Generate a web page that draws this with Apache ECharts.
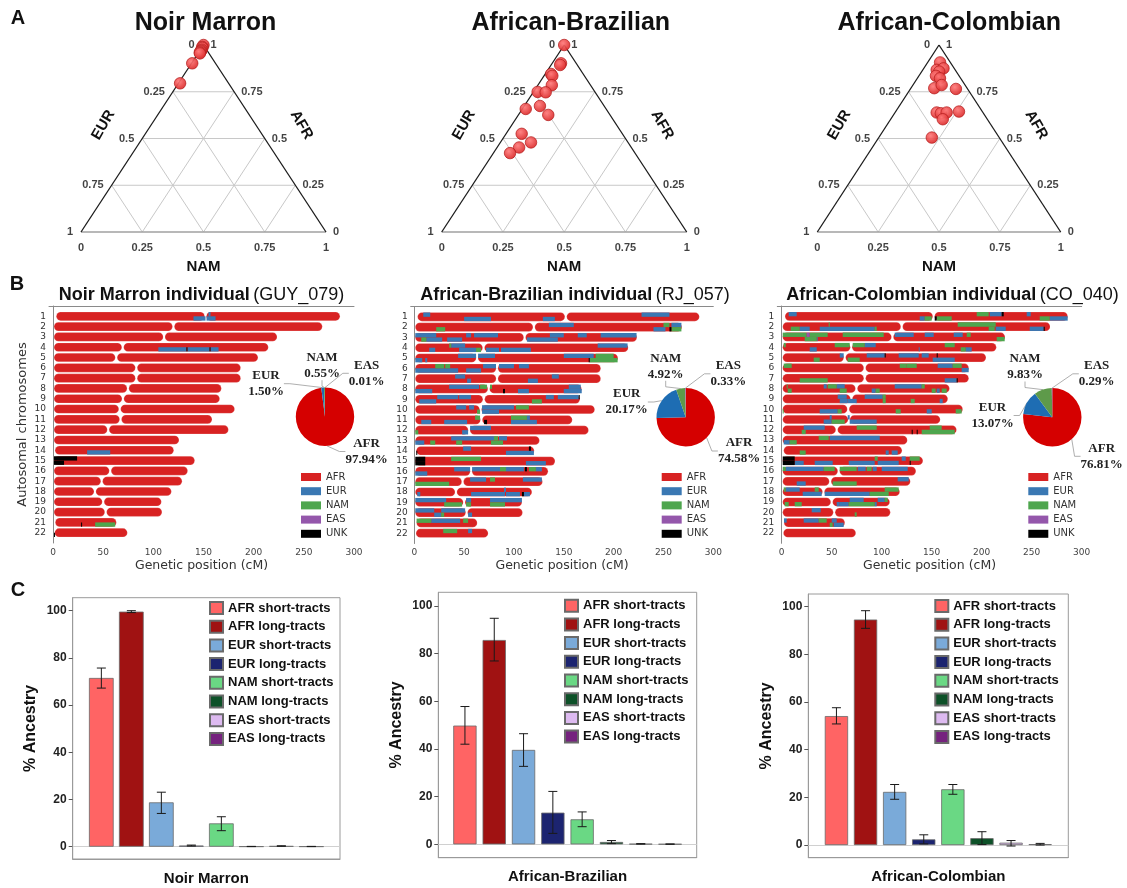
<!DOCTYPE html>
<html><head><meta charset="utf-8">
<script src="https://cdn.jsdelivr.net/npm/echarts@6/dist/echarts.min.js"></script>
<style>html,body{margin:0;padding:0;background:#fff}#c{width:1127px;height:888px}</style>
</head><body><div id="c"></div>
<script>
// ---------------- DATA ----------------
// Panel A: individual ancestry proportions [AFR, EUR, NAM]
const ternTitles = ['Noir Marron', 'African-Brazilian', 'African-Colombian'];
const ternTicks = [0, 0.25, 0.5, 0.75, 1];
const ternNoirMarron = [[1,0,0],[0.99,0.01,0],[0.985,0.012,0.003],[0.975,0.02,0.005],[0.97,0.025,0.005],[0.965,0.03,0.005],[0.96,0.035,0.005],[0.955,0.037,0.008],[0.902,0.095,0.003],[0.795,0.198,0.007]];
const ternAfrBrazilian = [[1,0,0],[0.902,0.062,0.036],[0.893,0.07,0.037],[0.845,0.131,0.024],[0.835,0.131,0.034],[0.785,0.158,0.057],[0.749,0.234,0.017],[0.747,0.202,0.051],[0.658,0.328,0.014],[0.674,0.262,0.064],[0.626,0.252,0.122],[0.525,0.411,0.064],[0.479,0.396,0.125],[0.452,0.458,0.09],[0.422,0.51,0.068]];
const ternAfrColombian = [[0.907,0.042,0.051],[0.867,0.076,0.057],[0.875,0.044,0.081],[0.858,0.07,0.072],[0.835,0.095,0.07],[0.822,0.085,0.093],[0.769,0.135,0.096],[0.786,0.096,0.118],[0.765,0.048,0.187],[0.639,0.19,0.171],[0.635,0.175,0.19],[0.639,0.149,0.212],[0.603,0.183,0.214],[0.644,0.096,0.26],[0.505,0.277,0.218]];

// Panel B: chromosomes (cM)
const chrLabels = [1,2,3,4,5,6,7,8,9,10,11,12,13,14,15,16,17,18,19,20,21,22];
const chrStart = [3.3,1,1,1,1,1,1,1,1,1,1,1,1,2,1,1,1,1,1,1,2.3,1.7];
const chrCentro = [152,120,110.7,69.5,63,83,83,74.7,69.7,66.5,67.3,55,null,null,null,57,48.5,41.8,50,52.5,null,null];
const chrEnd = [286,268.4,223.3,214.6,204.3,187,187,167.8,166.1,181,158.5,174.8,125.6,120.3,141.2,134.2,128.6,118,108,108.6,63.1,74.1];
const ancestries = ['AFR','EUR','NAM','EAS','UNK'];
const indivTitles = [['Noir Marron individual','(GUY_079)'],['African-Brazilian individual','(RJ_057)'],['African-Colombian individual','(CO_040)']];
// [chromosome, haplotype (0 top / 1 bottom), start cM, end cM, ancestry]
const segNoirMarron = [
[1,1,140,152,'EUR'],[1,1,153,162,'EUR'],[1,0,155,157,'EUR'],
[4,1,105,133,'EUR'],[4,1,133,134,'UNK'],[4,1,134,156,'EUR'],[4,1,156,157,'UNK'],[4,1,157,165,'EUR'],
[14,1,34,57,'EUR'],[15,0,1,24,'UNK'],[15,1,1,11,'UNK'],[21,1,28,29,'UNK'],[21,1,42,62,'NAM'],[22,1,1,2,'UNK']];
const segAfrBrazilian = [
[1,0,9,16,'EUR'],[1,1,50,77,'EUR'],[1,1,129,141,'EUR'],[1,0,228,256,'EUR'],
[2,0,135,160,'EUR'],[2,1,22,31,'NAM'],[2,1,240,252,'EUR'],[2,0,250,256,'NAM'],[2,1,256,258,'UNK'],[2,1,258,268,'NAM'],[2,0,258,268,'EUR'],
[3,0,1,22,'EUR'],[3,1,7,12,'NAM'],[3,1,12,28,'EUR'],[3,0,52,57,'EUR'],[3,0,60,84,'EUR'],[3,1,33,48,'EUR'],[3,1,113,144,'EUR'],[3,0,136,150,'EUR'],[3,0,164,173,'EUR'],[3,0,187,223,'EUR'],
[4,0,35,37,'NAM'],[4,0,37,51,'EUR'],[4,1,15,21,'EUR'],[4,1,45,62,'EUR'],[4,1,62,67,'NAM'],[4,1,72,85,'EUR'],[4,1,87,117,'EUR'],[4,0,184,214,'EUR'],
[5,1,1,8,'EUR'],[5,1,11,13,'EUR'],[5,0,44,62,'EUR'],[5,0,64,81,'EUR'],[5,0,150,180,'EUR'],[5,1,176,204,'NAM'],[5,0,182,200,'NAM'],[5,1,175,176,'UNK'],
[6,0,21,30,'NAM'],[6,0,31,36,'NAM'],[6,1,1,44,'EUR'],[6,1,52,67,'EUR'],[6,0,69,82,'EUR'],[6,0,85,100,'EUR'],[6,0,105,115,'EUR'],
[7,0,41,51,'EUR'],[7,1,53,57,'EUR'],[7,1,114,124,'EUR'],[7,0,138,145,'EUR'],
[8,0,35,65,'EUR'],[8,0,66,73,'NAM'],[8,0,76,78,'NAM'],[8,1,1,18,'EUR'],[8,1,89,91,'UNK'],[8,1,104,115,'EUR'],[8,1,150,168,'EUR'],[8,0,155,167,'EUR'],
[9,0,23,44,'EUR'],[9,0,45,57,'EUR'],[9,1,5,22,'EUR'],[9,1,118,128,'NAM'],[9,0,132,140,'EUR'],[9,0,144,165,'EUR'],[9,0,165,166,'UNK'],
[10,0,42,52,'EUR'],[10,0,55,60,'EUR'],[10,1,63,66,'NAM'],[10,0,68,100,'EUR'],[10,1,68,85,'EUR'],[10,0,102,115,'NAM'],
[11,1,7,17,'EUR'],[11,1,30,53,'EUR'],[11,0,61,66,'NAM'],[11,1,70,73,'UNK'],[11,0,97,113,'NAM'],[11,1,97,123,'EUR'],[11,0,113,116,'EUR'],
[12,1,1,4,'NAM'],[12,1,48,54,'EUR'],[12,0,56,77,'EUR'],
[13,0,37,80,'EUR'],[13,0,80,84,'NAM'],[13,0,85,93,'EUR'],[13,1,1,10,'EUR'],[13,1,16,21,'NAM'],[13,1,42,48,'NAM'],[13,1,77,89,'NAM'],
[14,0,49,57,'EUR'],[14,1,92,120,'EUR'],[14,1,2,3,'UNK'],[14,0,115,117,'UNK'],
[15,0,1,11,'UNK'],[15,1,1,11,'UNK'],[15,0,37,67,'NAM'],[15,1,112,132,'EUR'],
[16,1,1,13,'EUR'],[16,0,40,56,'EUR'],[16,0,58,86,'EUR'],[16,0,86,92,'NAM'],[16,0,92,110,'EUR'],[16,0,111,113,'UNK'],[16,0,115,122,'NAM'],[16,0,122,128,'EUR'],
[17,1,1,35,'NAM'],[17,0,56,72,'EUR'],[17,0,76,81,'NAM'],[17,0,109,128,'EUR'],
[18,1,3,6,'EUR'],[18,1,57,91,'EUR'],[18,0,90,92,'EUR'],[18,1,92,106,'EUR'],[18,1,108,110,'UNK'],[18,1,110,116,'EUR'],
[19,0,1,32,'EUR'],[19,1,30,48,'NAM'],[19,0,52,57,'EUR'],[19,1,52,57,'NAM'],[19,0,76,108,'EUR'],[19,1,76,91,'NAM'],
[20,0,1,20,'EUR'],[20,1,20,27,'EUR'],[20,0,27,51,'EUR'],[20,1,27,30,'NAM'],[20,1,54,58,'EUR'],
[21,0,2.3,17,'NAM'],[21,0,17,46,'EUR'],[21,0,49,54,'NAM'],
[22,0,29,43,'NAM'],[22,0,54,58,'EUR']];
const segAfrColombian = [
[1,0,7,15,'EUR'],[1,0,195,207,'NAM'],[1,0,208,220,'EUR'],[1,0,220,222,'UNK'],[1,0,245,249,'EUR'],[1,1,138,143,'EUR'],[1,1,143,150,'NAM'],[1,1,153,155,'UNK'],[1,1,155,170,'NAM'],[1,1,258,268,'NAM'],[1,1,268,286,'EUR'],
[2,0,47,48,'NAM'],[2,1,9,18,'NAM'],[2,1,18,28,'EUR'],[2,1,38,93,'EUR'],[2,1,93,95,'NAM'],[2,0,176,214,'NAM'],[2,1,207,213,'NAM'],[2,1,214,224,'EUR'],[2,1,248,262,'EUR'],[2,1,262,263,'UNK'],
[3,0,1,25,'NAM'],[3,0,25,28,'EAS'],[3,0,28,46,'NAM'],[3,0,61,102,'NAM'],[3,1,23,35,'NAM'],[3,1,35,36,'EUR'],[3,0,113,132,'EUR'],[3,0,143,152,'EUR'],[3,0,172,181,'EUR'],[3,0,185,189,'NAM'],[3,1,215,223,'NAM'],
[4,0,2,4,'NAM'],[4,0,53,68,'NAM'],[4,0,71,83,'NAM'],[4,0,83,94,'EUR'],[4,1,28,35,'EUR'],[4,0,163,173,'NAM'],[4,1,179,184,'NAM'],[4,1,184,190,'EUR'],[4,1,137,138,'EUR'],
[5,0,58,62,'EUR'],[5,1,32,38,'NAM'],[5,1,66,78,'NAM'],[5,0,85,103,'EUR'],[5,0,103,104,'UNK'],[5,0,117,137,'EUR'],[5,0,140,147,'EUR'],[5,0,155,156,'UNK'],[5,1,151,173,'EUR'],
[6,0,2,10,'NAM'],[6,0,118,125,'NAM'],[6,0,125,135,'NAM'],[6,0,156,171,'EUR'],[6,0,171,180,'NAM'],[6,1,180,187,'EUR'],
[7,1,18,46,'NAM'],[7,1,163,175,'EUR'],[7,1,175,176,'UNK'],
[8,0,5,6,'NAM'],[8,1,6,10,'NAM'],[8,0,42,45,'EUR'],[8,0,46,55,'NAM'],[8,0,55,63,'EUR'],[8,1,58,65,'NAM'],[8,1,90,94,'EUR'],[8,1,94,98,'NAM'],[8,0,113,140,'EUR'],[8,0,140,143,'NAM'],[8,1,150,154,'NAM'],[8,1,155,158,'EUR'],[8,1,160,165,'NAM'],
[9,0,56,65,'EUR'],[9,1,58,66,'EUR'],[9,1,66,75,'EUR'],[9,0,83,101,'EUR'],[9,0,101,104,'NAM'],[9,1,101,104,'NAM'],[9,1,129,133,'NAM'],[9,1,158,161,'EUR'],
[10,1,1,2,'NAM'],[10,1,38,56,'EUR'],[10,1,56,60,'NAM'],[10,1,114,119,'NAM'],[10,1,145,150,'EUR'],[10,1,174,180,'NAM'],
[11,0,48,50,'EUR'],[11,1,42,50,'EUR'],[11,1,50,63,'NAM'],[11,1,68,95,'EUR'],[11,0,66,68,'EUR'],
[12,0,22,43,'EUR'],[12,1,20,24,'NAM'],[12,0,75,95,'NAM'],[12,0,148,160,'NAM'],[12,1,140,173,'NAM'],[12,1,130,131,'UNK'],[12,1,135,136,'UNK'],
[13,1,2,8,'EUR'],[13,1,8,15,'NAM'],[13,0,37,47,'NAM'],[13,0,48,98,'EUR'],
[14,1,18,24,'NAM'],[14,1,104,107,'EUR'],[14,1,110,116,'EUR'],
[15,0,1,13,'UNK'],[15,1,1,13,'UNK'],[15,1,13,22,'EUR'],[15,1,33,51,'EUR'],[15,1,67,93,'EUR'],[15,0,93,96,'NAM'],[15,1,96,117,'EUR'],[15,0,120,124,'EUR'],[15,0,128,138,'NAM'],[15,1,128,129,'UNK'],
[16,0,1,4,'NAM'],[16,0,4,42,'EUR'],[16,0,42,53,'NAM'],[16,0,58,75,'NAM'],[16,0,76,84,'EUR'],[16,0,85,90,'NAM'],[16,0,91,95,'EUR'],[16,0,100,126,'EUR'],
[17,1,15,24,'EUR'],[17,0,116,127,'EUR'],[17,1,51,75,'NAM'],
[18,0,2,4,'NAM'],[18,0,4,18,'EUR'],[18,1,21,40,'EUR'],[18,0,33,37,'NAM'],[18,1,43,88,'EUR'],[18,1,88,107,'NAM'],[18,0,103,117,'NAM'],
[19,1,3,7,'NAM'],[19,1,13,20,'NAM'],[19,0,68,82,'EUR'],[19,0,96,103,'EUR'],[19,0,103,106,'NAM'],[19,1,55,58,'EUR'],[19,1,58,67,'EUR'],[19,1,67,93,'NAM'],[19,1,93,95,'EUR'],
[20,0,30,39,'EUR'],[20,1,73,75,'NAM'],
[21,0,2.3,5,'EUR'],[21,0,22,37,'EUR'],[21,0,37,45,'NAM'],[21,0,50,55,'EUR'],[21,1,48,51,'NAM'],[21,1,52,62,'EUR']];
// genome-wide ancestry proportions (%), order AFR, EUR, NAM, EAS
const pieNoirMarron = [97.94, 1.50, 0.55, 0.01];
const pieAfrBrazilian = [74.58, 20.17, 4.92, 0.33];
const pieAfrColombian = [76.81, 13.07, 9.83, 0.29];
const xTicksCM = [0, 50, 100, 150, 200, 250, 300];

// Panel C: % ancestry by tract length
const tractNames = ['AFR short-tracts','AFR long-tracts','EUR short-tracts','EUR long-tracts','NAM short-tracts','NAM long-tracts','EAS short-tracts','EAS long-tracts'];
const popNames = ['Noir Marron', 'African-Brazilian', 'African-Colombian'];
const meanNoirMarron = [71.5, 99.6, 18.8, 0.5, 9.9, 0.1, 0.3, 0.1];
const lowNoirMarron  = [67.2, 99.2, 14.1, 0.3, 6.8, 0.05, 0.2, 0.05];
const highNoirMarron = [75.7, 100, 23.1, 0.7, 12.7, 0.15, 0.4, 0.15];
const meanAfrBrazilian = [49.8, 85.7, 39.6, 13.3, 10.5, 1.0, 0.2, 0.1];
const lowAfrBrazilian  = [42.0, 76.9, 32.7, 4.6, 7.4, 0.3, 0.1, 0.05];
const highAfrBrazilian = [57.8, 94.8, 46.4, 22.2, 13.6, 1.6, 0.3, 0.15];
const meanAfrColombian = [54.1, 94.6, 22.3, 2.4, 23.4, 2.9, 1.0, 0.4];
const lowAfrColombian  = [50.8, 90.9, 19.2, 0.5, 21.3, 0.2, -0.4, 0.0];
const highAfrColombian = [57.6, 98.3, 25.4, 4.3, 25.4, 5.6, 1.9, 0.7];
const yTicksPct = [0, 20, 40, 60, 80, 100];

// ---------------- STYLE / LAYOUT ----------------
const SANS = 'Liberation Sans, Arial, sans-serif';
const MPL = 'DejaVu Sans, sans-serif';
const SERIF = 'Liberation Serif, Times New Roman, serif';
const COL = {AFR:'#d82222', EUR:'#3a78b3', NAM:'#4ea64e', EAS:'#9457ab', UNK:'#000000'};
const PIECOL = ['#d50000', '#1e6db3', '#5e9a4a', '#9457ab'];
const TRACTCOL = ['#ff6464','#a01212','#7aaad9','#1c2470','#6ad884','#0d5128','#ddbaf0','#75227e'];

const ternBox = [{left:81, top:45, width:245, height:187},{left:441.7, top:45, width:245, height:187},{left:817.3, top:45, width:243.4, height:187}];
const chromBox = [{left:49, top:306, width:305, height:237},{left:410.7, top:306.5, width:302.6, height:237},{left:777.3, top:306, width:304.4, height:237.3}];
const chromXMin = [-4, -3.6, -4.4];
const pieCenter = [[325, 416.7],[685.7, 417.3],[1052.3, 417.3]];
const pieLabelPos = [
  [[366.5,451.5],[266,383.7],[322,365.7],[366.7,373.3]],
  [[739,451],[626.7,402],[665.7,366.3],[728.3,373.8]],
  [[1101.7,456.3],[992.5,415.5],[1025,367],[1096.7,373.8]]];
const legBLeft = [296, 656.7, 1023.3];
const barBox = [{left:72.7, top:597.7, width:267.3, height:261.3},{left:438.3, top:592.3, width:258.4, height:265.4},{left:808.3, top:594, width:260, height:263.7}];
const barY = [[-5.2,105.5],[-5.6,105.7],[-5.3,105.3]];
const barW = [24.7, 23.3, 23.3];
const barStep = [30, 29.3, 29.1];
const legCPos = [[209,601],[564,598.7],[934.3,599]];

const ternSets = [ternNoirMarron, ternAfrBrazilian, ternAfrColombian];
const segSets = [segNoirMarron, segAfrBrazilian, segAfrColombian];
const pieSets = [pieNoirMarron, pieAfrBrazilian, pieAfrColombian];
const meanSets = [meanNoirMarron, meanAfrBrazilian, meanAfrColombian];
const lowSets = [lowNoirMarron, lowAfrBrazilian, lowAfrColombian];
const highSets = [highNoirMarron, highAfrBrazilian, highAfrColombian];

// ternary -> cartesian (EUR vertex bottom-left, NAM bottom-right, AFR apex)
function tern(afr, eur, nam) { return [nam + afr / 2, afr]; }

const grid = [], xAxis = [], yAxis = [], series = [], legend = [], graphic = [];
const BAR_H = 0.84;

// ---------- Panel A ----------
for (let p = 0; p < 3; p++) {
  const b = ternBox[p];
  grid.push({left:b.left, top:b.top, width:b.width, height:b.height});
  const gi = grid.length - 1;
  xAxis.push({gridIndex:gi, type:'value', min:0, max:1, show:false});
  yAxis.push({gridIndex:gi, type:'value', min:0, max:1, show:false});
  const lines = [];
  ternTicks.filter(k => k > 0 && k < 1).forEach(k => {
    lines.push([...tern(k, 1-k, 0), ...tern(k, 0, 1-k), 0]);
    lines.push([...tern(0, 1-k, k), ...tern(1-k, 0, k), 0]);
    lines.push([...tern(0, k, 1-k), ...tern(1-k, k, 0), 0]);
  });
  lines.push([...tern(0,0,1), ...tern(0,1,0), 2]);
  lines.push([...tern(0,1,0), ...tern(1,0,0), 1]);
  lines.push([...tern(0,0,1), ...tern(1,0,0), 1]);
  series.push({type:'custom', name:'tern-frame-'+p, xAxisIndex:gi, yAxisIndex:gi, silent:true, z:1,
    encode:{x:[0,2], y:[1,3]}, data: lines,
    renderItem: (params, api) => {
      const a = api.coord([api.value(0), api.value(1)]), c = api.coord([api.value(2), api.value(3)]);
      const k = api.value(4);
      return {type:'line', shape:{x1:a[0], y1:a[1], x2:c[0], y2:c[1]},
        style:{stroke: k === 0 ? '#c8c8c8' : (k === 1 ? '#1a1a1a' : '#a0a0a0'), lineWidth: k === 0 ? 1 : 1.3}};
    }});
  // tick labels
  const tl = [];
  const lab = (pos, text, position, dist) => ({value: pos, label:{show:true, position, distance:dist, formatter: text}});
  ternTicks.forEach(v => {
    tl.push(lab(tern(1-v, v, 0), String(v), 'left', v === 0 ? 9 : 8));
    tl.push(lab(tern(v, 0, 1-v), String(v), 'right', 7));
    tl.push(lab(tern(0, 1-v, v), String(v), 'bottom', 10));
  });
  series.push({type:'scatter', name:'tern-ticks-'+p, xAxisIndex:gi, yAxisIndex:gi, silent:true, symbolSize:0, z:2,
    label:{fontFamily:SANS, fontWeight:'bold', fontSize:11, color:'#111'}, data: tl});
  series.push({type:'scatter', name:ternTitles[p], xAxisIndex:gi, yAxisIndex:gi, z:5, symbolSize:11.5,
    itemStyle:{color:new echarts.graphic.RadialGradient(0.4,0.35,0.65,[{offset:0,color:'#ff7a7a'},{offset:1,color:'#db2a2a'}]),
      borderColor:'#b41c1c', borderWidth:0.8, opacity:0.92},
    data: ternSets[p].map(d => tern(d[0], d[1], d[2]))});
  const cx = b.left + b.width / 2;
  graphic.push({type:'text', style:{text:ternTitles[p], x:[205.5,570.8,949.2][p], y:22.7, align:'center', verticalAlign:'middle',
    font:'bold 25px ' + SANS, fill:'#111'}});
  graphic.push({type:'text', x:b.left + 0.091*b.width, y:125, rotation:Math.PI/3,
    style:{text:'EUR', x:0, y:0, align:'center', verticalAlign:'middle', font:'bold 15px ' + SANS, fill:'#111'}});
  graphic.push({type:'text', x:b.left + 0.9*b.width, y:125, rotation:-Math.PI/3,
    style:{text:'AFR', x:0, y:0, align:'center', verticalAlign:'middle', font:'bold 15px ' + SANS, fill:'#111'}});
  graphic.push({type:'text', style:{text:'NAM', x:cx, y:266.7, align:'center', verticalAlign:'middle', font:'bold 15px ' + SANS, fill:'#111'}});
}

// ---------- Panel B ----------
for (let p = 0; p < 3; p++) {
  const b = chromBox[p];
  grid.push({left:b.left, top:b.top, width:b.width, height:b.height});
  const gi = grid.length - 1;
  xAxis.push({gridIndex:gi, type:'value', min:chromXMin[p], max:300,
    axisLine:{lineStyle:{color:'#8a8a8a'}}, axisTick:{show:false}, splitLine:{show:false},
    axisLabel:{customValues:xTicksCM, fontFamily:MPL, fontSize:9, color:'#444', margin:5},
    name:'Genetic position (cM)', nameLocation:'middle', nameGap:16,
    nameTextStyle:{fontFamily:MPL, fontSize:12.5, color:'#333'}});
  yAxis.push({gridIndex:gi, type:'value', min:0, max:23, interval:1, inverse:true,
    axisLine:{show:true, lineStyle:{color:'#8a8a8a'}}, axisTick:{show:false}, splitLine:{show:false},
    axisLabel:{fontFamily:MPL, fontSize:9, color:'#333', margin:3,
      formatter: v => (v >= 1 && v <= chrLabels.length) ? String(chrLabels[v-1]) : ''},
    name: p === 0 ? 'Autosomal chromosomes' : '', nameLocation:'middle', nameGap:20,
    nameTextStyle:{fontFamily:MPL, fontSize:13, color:'#333'}});
  // chromosome arms (AFR background)
  const arms = [];
  chrLabels.forEach((c, i) => {
    if (chrCentro[i] != null) { arms.push([c, chrStart[i], chrCentro[i] - 0.9]); arms.push([c, chrCentro[i] + 0.9, chrEnd[i]]); }
    else arms.push([c, chrStart[i], chrEnd[i]]);
  });
  series.push({type:'custom', name:'AFR', xAxisIndex:gi, yAxisIndex:gi, silent:true, z:2,
    itemStyle:{color:COL.AFR}, encode:{x:[1,2], y:0}, data:arms,
    renderItem: (params, api) => {
      const r = api.value(0);
      const a = api.coord([api.value(1), r]), e = api.coord([api.value(2), r]);
      const h = Math.abs(api.size([0,1])[1]) * BAR_H;
      return {type:'rect', shape:{x:a[0], y:a[1]-h/2, width:e[0]-a[0], height:h, r:h/2},
        style:{fill:COL.AFR, stroke:'rgba(255,255,255,0.5)', lineWidth:0.4}};
    }});
  ancestries.slice(1).forEach(anc => {
    series.push({type:'custom', name:anc, xAxisIndex:gi, yAxisIndex:gi, silent:true, z:3,
      itemStyle:{color:COL[anc]}, encode:{x:[2,3], y:0},
      data: segSets[p].filter(s => s[4] === anc).map(s => [s[0], s[1], s[2], s[3]]),
      renderItem: (params, api) => {
        const r = api.value(0), hap = api.value(1);
        const a = api.coord([api.value(2), r]), e = api.coord([api.value(3), r]);
        const h = Math.abs(api.size([0,1])[1]) * BAR_H;
        return {type:'rect', shape:{x:a[0], y: hap === 0 ? a[1]-h/2 : a[1], width:Math.max(0.8, e[0]-a[0]), height:h/2},
          style:{fill:COL[anc]}};
      }});
  });
  // pie
  const pl = pieLabelPos[p];
  series.push({type:'pie', name:'pie-'+p, center:pieCenter[p], radius:29.2, startAngle:90, clockwise:true, z:4,
    silent:true,
    data: pieSets[p].map((v, i) => ({name:ancestries[i], value:v, itemStyle:{color:PIECOL[i]}})),
    label:{show:true, position:'outside', overflow:'none', width:80, fontFamily:SERIF,
      formatter: prm => '{n|' + prm.name + '}\n{v|' + prm.value.toFixed(2) + '%}',
      rich:{n:{fontFamily:SERIF, fontWeight:'bold', fontSize:13, color:'#222', lineHeight:16, align:'center'},
            v:{fontFamily:SERIF, fontWeight:'bold', fontSize:13, color:'#222', lineHeight:16, align:'center'}}},
    labelLine:{show:true, length:6, length2:6, lineStyle:{color:'#9a9a9a', width:0.8}},
    labelLayout: prm => ({x:pl[prm.dataIndex][0], y:pl[prm.dataIndex][1], align:'center', verticalAlign:'middle'})
  });
  legend.push({orient:'vertical', left:legBLeft[p], top:467, itemWidth:20, itemHeight:8, itemGap:4.2,
    selectedMode:false, icon:'rect', data:ancestries,
    textStyle:{fontFamily:MPL, fontSize:10, color:'#333', lineHeight:10}});
  graphic.push({type:'text', style:{text:'{b|' + indivTitles[p][0] + '} {n|' + indivTitles[p][1] + '}',
    x:[201.5,575,952.5][p], y:295, align:'center', verticalAlign:'middle',
    rich:{b:{fontFamily:SANS, fontWeight:'bold', fontSize:18, fill:'#111'}, n:{fontFamily:SANS, fontSize:18, fill:'#111'}}}});
}

// ---------- Panel C ----------
for (let p = 0; p < 3; p++) {
  const b = barBox[p];
  grid.push({left:b.left, top:b.top, width:b.width, height:b.height, show:true, borderColor:'#9a9a9a', borderWidth:1});
  const gi = grid.length - 1;
  xAxis.push({gridIndex:gi, type:'category', data:[popNames[p]],
    axisLine:{onZero:false, lineStyle:{color:'#9a9a9a'}},
    axisTick:{alignWithLabel:true, length:11, lineStyle:{color:'#555'}},
    axisLabel:{fontFamily:SANS, fontWeight:'bold', fontSize:15, color:'#111', margin:12}});
  yAxis.push({gridIndex:gi, type:'value', min:barY[p][0], max:barY[p][1],
    axisLine:{show:true, lineStyle:{color:'#9a9a9a'}}, splitLine:{show:false},
    axisTick:{show:true, length:4, customValues:yTicksPct, lineStyle:{color:'#555'}},
    axisLabel:{customValues:yTicksPct, fontFamily:SANS, fontWeight:'bold', fontSize:12, color:'#222', margin:6},
    name:'% Ancestry', nameLocation:'middle', nameGap:34,
    nameTextStyle:{fontFamily:SANS, fontWeight:'bold', fontSize:16, color:'#111'}});
  tractNames.forEach((nm, i) => {
    const s = {type:'bar', name:nm, xAxisIndex:gi, yAxisIndex:gi, barWidth:barW[p],
      barGap: ((barStep[p] - barW[p]) / barW[p] * 100).toFixed(1) + '%', silent:true, z:3,
      itemStyle:{color:TRACTCOL[i], borderColor:'#6a6a6a', borderWidth:0.8},
      data:[meanSets[p][i]]};
    if (i === 0) s.markLine = {silent:true, symbol:'none', label:{show:false}, z:1,
      lineStyle:{color:'#d0d0d0', type:'solid', width:1}, data:[{yAxis:0}]};
    series.push(s);
  });
  const step = barStep[p];
  series.push({type:'custom', name:'err-'+p, xAxisIndex:gi, yAxisIndex:gi, silent:true, z:10,
    encode:{x:0, y:[1,2]},
    data: tractNames.map((nm, i) => [0, lowSets[p][i], highSets[p][i], i]),
    renderItem: (params, api) => {
      const i = api.value(3);
      const lo = api.coord([0, api.value(1)]), hi = api.coord([0, api.value(2)]);
      const x = lo[0] + (i - 3.5) * step, w = 4.5;
      const st = {stroke:'#1a1a1a', lineWidth:1};
      return {type:'group', children:[
        {type:'line', shape:{x1:x, y1:lo[1], x2:x, y2:hi[1]}, style:st},
        {type:'line', shape:{x1:x-w, y1:lo[1], x2:x+w, y2:lo[1]}, style:st},
        {type:'line', shape:{x1:x-w, y1:hi[1], x2:x+w, y2:hi[1]}, style:st}]};
    }});
  legend.push({orient:'vertical', left:legCPos[p][0], top:legCPos[p][1], itemWidth:13, itemHeight:12, itemGap:4.7,
    selectedMode:false, icon:'rect', data:tractNames, padding:0,
    textStyle:{fontFamily:SANS, fontWeight:'bold', fontSize:13, color:'#111', lineHeight:14}});
}

// panel letters
[['A',18,18],['B',17,284],['C',18,590]].forEach(l => graphic.push({type:'text',
  style:{text:l[0], x:l[1], y:l[2], align:'center', verticalAlign:'middle', font:'bold 20px ' + SANS, fill:'#111'}}));

const chart = echarts.init(document.getElementById('c'), null, {renderer:'canvas'});
chart.setOption({animation:false, backgroundColor:'#fff', grid, xAxis, yAxis, series, legend, graphic});
</script></body></html>
